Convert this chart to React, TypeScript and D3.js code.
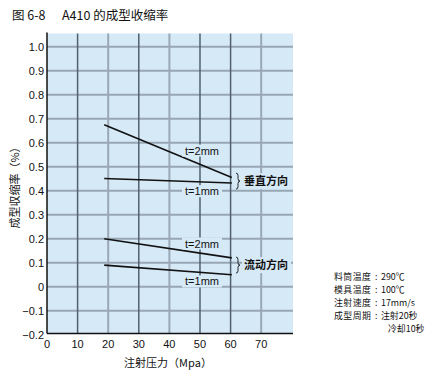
import React from "react";
import * as d3 from "d3";

const titleParts = ["图 6-8", "A410 的成型收缩率"];
const xTicks = [0, 10, 20, 30, 40, 50, 60, 70];
const darkGridX = [10, 30, 50, 60];
const yTicks = [1.0, 0.9, 0.8, 0.7, 0.6, 0.5, 0.4, 0.3, 0.2, 0.1, 0, -0.1, -0.2];
const yTickLabels = ["1.0", "0.9", "0.8", "0.7", "0.6", "0.5", "0.4", "0.3", "0.2", "0.1", "0", "−0.1", "−0.2"];
const lineX = [18.7, 60.4];
const vert2 = [0.675, 0.455];
const vert1 = [0.451, 0.432];
const flow2 = [0.2, 0.12];
const flow1 = [0.09, 0.05];
const seriesNames = ["t=2mm", "t=1mm", "t=2mm", "t=1mm"];
const groupNames = ["垂直方向", "流动方向"];
const conditionNames = ["料筒温度", "模具温度", "注射速度", "成型周期", ""];
const conditionValues = ["290℃", "100℃", "17mm/s", "注射20秒", "冷却10秒"];

const L = 47, R = 293, T = 33.5, B = 333.5;
const FONT = "'Noto Sans CJK SC', 'Noto Sans', sans-serif";
const LFONT = "'Liberation Sans', Arial, sans-serif";

export default function App() {
  const x = d3.scaleLinear().domain([0, 80.4]).range([L, R]);
  const y = d3.scaleLinear().domain([-0.195, 1.055]).range([B, T]);
  const line = d3.line<[number, number]>().x(d => x(d[0])).y(d => y(d[1]));
  const series = [vert2, vert1, flow2, flow1];
  const labelVals = [0.567, 0.398, 0.18, 0.022];
  const bg = "#d6e9f7";
  return (
    <svg width={440} height={376} style={{ position: "absolute", left: 0, top: 0, background: "#fff" }}>
      <text y={19.5} fontFamily={FONT} fontSize={12.5} fill="#111">
        <tspan x={12}>{titleParts[0]}</tspan>
        <tspan x={62}>{titleParts[1]}</tspan>
      </text>
      <rect x={L} y={T} width={R - L} height={B - T} fill={bg} />
      {yTicks.filter(v => v > -0.15).map((v, i) => (
        <line key={"hy" + i} x1={L} x2={R} y1={y(v)} y2={y(v)} stroke="#97a6b3" strokeWidth={2} />
      ))}
      {xTicks.filter(v => v > 0).map((v, i) => (
        <line key={"vx" + i} x1={x(v)} x2={x(v)} y1={T} y2={B}
          stroke={darkGridX.includes(v) ? "#52606e" : "#9aa8b5"}
          strokeWidth={darkGridX.includes(v) ? 1.5 : 2} />
      ))}
      {series.map((s, i) => (
        <path key={"s" + i} d={line([[lineX[0], s[0]], [lineX[1], s[1]]]) || ""} fill="none" stroke="#111" strokeWidth={1.6} />
      ))}
      {seriesNames.map((n, i) => (
        <g key={"sl" + i}>
          <rect x={182} y={y(labelVals[i]) - 6} width={40} height={12} fill={bg} />
          <text x={202} y={y(labelVals[i]) + 4} textAnchor="middle" fontFamily={LFONT} fontSize={11} fill="#111">{n}</text>
        </g>
      ))}
      {groupNames.map((g, i) => {
        const cy = i === 0 ? y(0.44) : y(0.09);
        return (
          <g key={"g" + i}>
            <rect x={242} y={cy - 8} width={49} height={16} fill={bg} />
            <path d={`M${236},${cy - 8} q2,0 2,2.5 v3 q0,2.5 2,2.5 q-2,0 -2,2.5 v3 q0,2.5 -2,2.5`} fill="none" stroke="#111" strokeWidth={0.9} />
            <text x={244} y={cy + 4} fontFamily={FONT} fontSize={11} fontWeight="bold" fill="#111">{g}</text>
          </g>
        );
      })}
      <line x1={L} x2={L} y1={T - 1} y2={B} stroke="#111" strokeWidth={1.5} />
      <line x1={L} x2={R} y1={B} y2={B} stroke="#111" strokeWidth={1.5} />
      {yTicks.map((v, i) => (
        <text key={"yl" + i} x={44} y={y(v) + 4} textAnchor="end" fontFamily={LFONT} fontSize={11} fill="#111">{yTickLabels[i]}</text>
      ))}
      {xTicks.map((v, i) => (
        <text key={"xl" + i} x={x(v)} y={348} textAnchor="middle" fontFamily={LFONT} fontSize={11} fill="#111">{v}</text>
      ))}
      <text x={168} y={367} textAnchor="middle" fontFamily={FONT} fontSize={11} fill="#111">注射压力（Mpa）</text>
      <text transform={`translate(19,185) rotate(-90)`} textAnchor="middle" fontFamily={FONT} fontSize={11} fill="#111">成型収缩率（%）</text>
      {conditionValues.map((c, i) => (
        <text key={"c" + i} y={280 + i * 13} fontFamily={FONT} fontSize={8.9} fill="#111">
          {conditionNames[i] ? <tspan x={334} style={{ letterSpacing: "0.5px" }}>{conditionNames[i]}</tspan> : null}
          {conditionNames[i] ? <tspan x={375}>:</tspan> : null}
          <tspan x={i === 4 ? 388 : 381}>{c}</tspan>
        </text>
      ))}
    </svg>
  );
}
